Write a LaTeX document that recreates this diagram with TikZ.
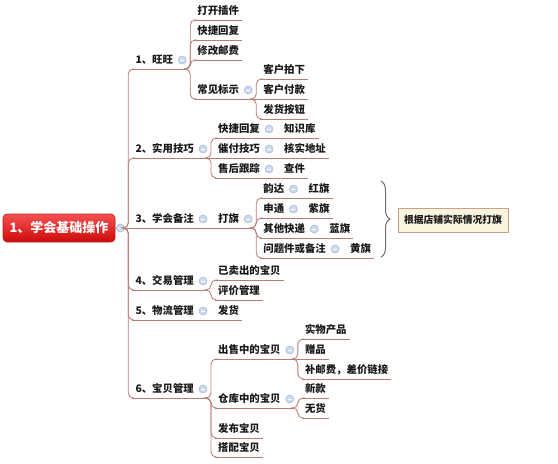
\documentclass[tikz,border=0pt]{standalone}
\usepackage{fontspec}
\setmainfont{Noto Sans CJK SC}
\usetikzlibrary{calc,decorations.pathreplacing}
\definecolor{brc}{RGB}{185,125,120}
\definecolor{ctlfill}{RGB}{205,218,238}
\definecolor{ctldraw}{RGB}{160,182,215}
\definecolor{txt}{RGB}{25,25,25}
\definecolor{notefill}{RGB}{248,244,222}
\definecolor{notedraw}{RGB}{200,160,140}
\definecolor{bracec}{RGB}{110,110,110}
\definecolor{roottop}{RGB}{245,80,80}
\definecolor{rootbot}{RGB}{205,10,10}
\definecolor{rootdraw}{RGB}{190,30,30}
\tikzset{
 br/.style={draw=brc, line width=0.85pt, rounded corners=5pt},
 topic/.style={anchor=south west, inner xsep=3pt, inner ysep=2pt, text height=8pt, text depth=3pt,
   font=\fontsize{10.4}{12}\selectfont\bfseries, text=txt},
 ctlc/.style={circle, fill=ctlfill, draw=ctldraw, line width=0.5pt, minimum size=8pt, inner sep=0pt,
   path picture={\draw[white, line width=1pt] ([xshift=-2pt]path picture bounding box.center) -- ([xshift=2pt]path picture bounding box.center);}},
 rootbox/.style={rounded corners=4pt, minimum width=112pt, minimum height=28pt, top color=roottop, bottom color=rootbot,
   draw=rootdraw, line width=0.6pt, text=white, font=\fontsize{13}{15}\selectfont\bfseries},
 notebox/.style={fill=notefill, draw=notedraw, line width=0.8pt, minimum width=110pt, minimum height=24pt,
   inner sep=2pt, text=txt, font=\fontsize{9.8}{12}\selectfont\bfseries},
 bracestyle/.style={draw=bracec, line width=1pt, decorate, decoration={brace, amplitude=9pt, aspect=0.5}},
}
\newcommand\mmkid[4]{\path (#2) ++(8,0) coordinate (tmp); \node[topic] (#1) at (tmp |- 0,#3) {#4}; \draw[br] (#1.south west) -- (#1.south east);}
\newcommand\mmctl[1]{\coordinate (#1e) at ($(#1.south east)+(10,0)$); \draw[br] (#1.south east) -- (#1e); \node[ctlc] (#1c) at ($(#1.south east)+(6,-9)$) {};}
\newcommand\mmedge[2]{\draw[br] (#1e) -- ++(4,0) |- (#2.south west);}
\newcommand\mmsedge[2]{\draw[br] (#1e) -- (#2.south west);}
\begin{document}
\begin{tikzpicture}[x=1pt,y=-1pt]
\useasboundingbox (0,0) rectangle (558,464);
% root
\node[rootbox] (root) at (59,228) {1、学会基础操作};
\coordinate (roote) at ($(root.east)+(9,0)$);
\draw[br] (root.east) -- (roote);
\node[ctlc] (rootc) at ($(root.east)+(5,0)$) {};
% level 1
\mmkid{a1}{roote}{69}{1、旺旺}\mmctl{a1}\mmedge{root}{a1}
\mmkid{a2}{roote}{158}{2、实用技巧}\mmctl{a2}\mmedge{root}{a2}
\mmkid{a3}{roote}{228}{3、学会备注}\mmctl{a3}\mmsedge{root}{a3}
\mmkid{a4}{roote}{290}{4、交易管理}\mmctl{a4}\mmedge{root}{a4}
\mmkid{a5}{roote}{320}{5、物流管理}\mmctl{a5}\mmedge{root}{a5}
\mmkid{a6}{roote}{398}{6、宝贝管理}\mmctl{a6}\mmedge{root}{a6}
% 1
\mmkid{b1}{a1e}{20}{打开插件}\mmedge{a1}{b1}
\mmkid{b2}{a1e}{40}{快捷回复}\mmedge{a1}{b2}
\mmkid{b3}{a1e}{60}{修改邮费}\mmedge{a1}{b3}
\mmkid{b4}{a1e}{99}{常见标示}\mmctl{b4}\mmedge{a1}{b4}
\mmkid{c1}{b4e}{79}{客户拍下}\mmedge{b4}{c1}
\mmkid{c2}{b4e}{99}{客户付款}\mmsedge{b4}{c2}
\mmkid{c3}{b4e}{119}{发货按钮}\mmedge{b4}{c3}
% 2
\mmkid{d1}{a2e}{138}{快捷回复}\mmctl{d1}\mmedge{a2}{d1}
\mmkid{d2}{a2e}{158}{催付技巧}\mmctl{d2}\mmsedge{a2}{d2}
\mmkid{d3}{a2e}{178}{售后跟踪}\mmctl{d3}\mmedge{a2}{d3}
\mmkid{e1}{d1e}{138}{知识库}\mmsedge{d1}{e1}
\mmkid{e2}{d2e}{158}{核实地址}\mmsedge{d2}{e2}
\mmkid{e3}{d3e}{178}{查件}\mmsedge{d3}{e3}
% 3
\mmkid{f1}{a3e}{228}{打旗}\mmctl{f1}\mmsedge{a3}{f1}
\mmkid{g1}{f1e}{198}{韵达}\mmctl{g1}\mmedge{f1}{g1}
\mmkid{g2}{f1e}{218}{申通}\mmctl{g2}\mmedge{f1}{g2}
\mmkid{g3}{f1e}{238}{其他快递}\mmctl{g3}\mmedge{f1}{g3}
\mmkid{g4}{f1e}{258}{问题件或备注}\mmctl{g4}\mmedge{f1}{g4}
\mmkid{h1}{g1e}{198}{红旗}\mmsedge{g1}{h1}
\mmkid{h2}{g2e}{218}{紫旗}\mmsedge{g2}{h2}
\mmkid{h3}{g3e}{238}{蓝旗}\mmsedge{g3}{h3}
\mmkid{h4}{g4e}{258}{黄旗}\mmsedge{g4}{h4}
% brace and note
\coordinate (brt) at (381,181);
\coordinate (brb) at (381,257);
\draw[bracestyle] (brt) -- (brb);
\node[notebox] (note) at (453,220) {根据店铺实际情况打旗};
% 4
\mmkid{i1}{a4e}{280}{已卖出的宝贝}\mmedge{a4}{i1}
\mmkid{i2}{a4e}{300}{评价管理}\mmedge{a4}{i2}
% 5
\mmkid{j1}{a5e}{320}{发货}\mmsedge{a5}{j1}
% 6
\mmkid{k1}{a6e}{359}{出售中的宝贝}\mmctl{k1}\mmedge{a6}{k1}
\mmkid{k2}{a6e}{408}{仓库中的宝贝}\mmctl{k2}\mmedge{a6}{k2}
\mmkid{k3}{a6e}{438}{发布宝贝}\mmedge{a6}{k3}
\mmkid{k4}{a6e}{457}{搭配宝贝}\mmedge{a6}{k4}
\mmkid{l1}{k1e}{339}{实物产品}\mmedge{k1}{l1}
\mmkid{l2}{k1e}{359}{赠品}\mmsedge{k1}{l2}
\mmkid{l3}{k1e}{379}{补邮费，差价链接}\mmedge{k1}{l3}
\mmkid{m1}{k2e}{398}{新款}\mmedge{k2}{m1}
\mmkid{m2}{k2e}{418}{无货}\mmedge{k2}{m2}
\end{tikzpicture}
\end{document}
